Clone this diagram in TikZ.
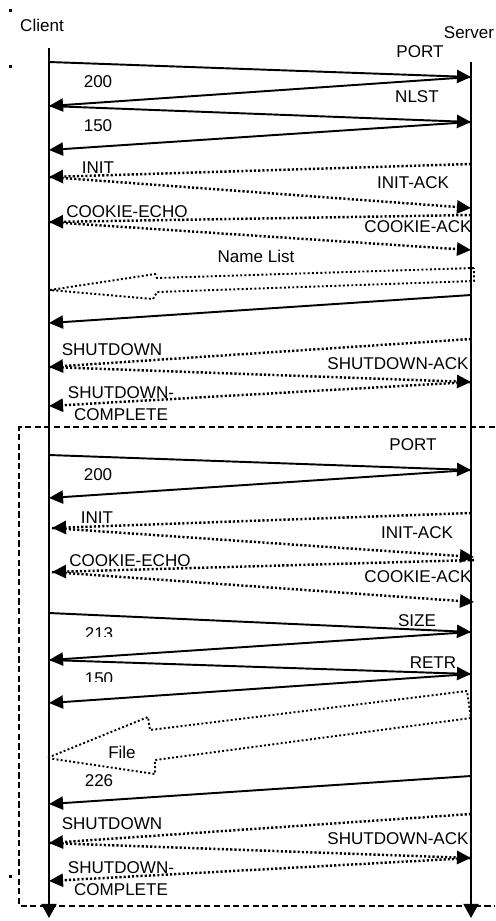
\documentclass[tikz,border=0pt]{standalone}
\usepackage{fontspec}
\setmainfont{Liberation Sans}
\usetikzlibrary{arrows.meta}

\tikzset{
  msg/.style={-{Triangle[length=8pt,width=7.5pt]}, line width=1.1pt},
  sig/.style={msg, line width=1.4pt, dash pattern=on 1.2pt off 1.2pt},
  life/.style={-{Triangle[length=8pt,width=8.5pt]}, line width=1.2pt},
  bigarrow/.style={line width=1.1pt, dash pattern=on 1.1pt off 1.3pt},
  frame/.style={line width=0.7pt, dash pattern=on 3.5pt off 2pt},
  lbl/.style={inner sep=0pt}
}

\begin{document}
\begin{tikzpicture}[x=0.02cm, y=-0.02cm, font=\fontsize{9.7}{11}\selectfont, every node/.style={lbl}]
    \useasboundingbox (0,0) rectangle (495,921);

    % stray marks
    \fill (9,9) rectangle (12,12);
    \fill (9,65) rectangle (12,68);
    \fill (9,875) rectangle (12,878);

    % lifelines
    \node (client) at (42,25) {Client};
    \node (server) at (469,33) {Server};
    \coordinate (ctop) at (49,48);
    \coordinate (cbot) at (49,918);
    \coordinate (stop) at (471,62);
    \coordinate (sbot) at (471,918);
    \draw[life] (ctop) -- (cbot);
    \draw[life] (stop) -- (sbot);

    % points on the lifelines
    \foreach \y in {62,106,150,177,222,323,367,406,455,498,613,660,703,804,843,881}
        \coordinate (c\y) at (49,\y);
    \foreach \y in {528,572}
        \coordinate (c\y) at (52,\y);
    \foreach \y in {77,122,164,208,215,250,295,339,382,470,513,632,674,776,814,858}
        \coordinate (s\y) at (471,\y);
    \foreach \y in {557,560,602}
        \coordinate (s\y) at (474,\y);

    % first transfer
    \draw[msg] (c62) -- (s77);
    \draw[msg] (s77) -- (c106);
    \draw[msg] (c106) -- (s122);
    \draw[msg] (s122) -- (c150);
    \draw[sig] (s164) -- (c177);
    \draw[sig] (c177) -- (s208);
    \draw[sig] (s215) -- (c222);
    \draw[sig] (c222) -- (s250);
    \draw[bigarrow] (474,268) -- (157,278) -- (155,274) -- (50,290) -- (153,299) -- (157,292) -- (474,281) -- cycle;
    \draw[msg] (s295) -- (c323);
    \draw[sig] (s339) -- (c367);
    \draw[sig] (c367) -- (s382);
    \draw[sig] (s382) -- (c406);

    \node (port1) at (420,52) {PORT};
    \node (ok1) at (98,82) {200};
    \node (nlst) at (417,97) {NLST};
    \node (open1) at (98,126) {150};
    \node (init1) at (98,168) {INIT};
    \node (initack1) at (413,183) {INIT-ACK};
    \node (echo1) at (127,212) {COOKIE-ECHO};
    \node (cack1) at (418,227) {COOKIE-ACK};
    \node (namelist) at (256,256) {Name List};
    \node (shut1) at (112,350) {SHUTDOWN};
    \node (shutack1) at (398,364) {SHUTDOWN-ACK};
    \node[align=center, font=\fontsize{9.7}{12.5}\selectfont] (comp1) at (121,404) {SHUTDOWN-\\COMPLETE};

    % second transfer
    \draw[frame] (495,427) -- (19,427) -- (19,906) -- (495,906);
    \draw[msg] (c455) -- (s470);
    \draw[msg] (s470) -- (c498);
    \draw[sig] (s513) -- (c528);
    \draw[sig] (c528) -- (s557);
    \draw[sig] (s560) -- (c572);
    \draw[sig] (c572) -- (s602);
    \draw[msg] (c613) -- (s632);
    \draw[msg] (s632) -- (c660);
    \draw[msg] (c660) -- (s674);
    \draw[msg] (s674) -- (c703);
    \draw[bigarrow] (467,691) -- (150,730) -- (148,717) -- (47,758) -- (155,774) -- (155,760) -- (471,718) -- cycle;
    \draw[msg] (s776) -- (c804);
    \draw[sig] (s814) -- (c843);
    \draw[sig] (c843) -- (s858);
    \draw[sig] (s858) -- (c881);

    \node (port2) at (413,445) {PORT};
    \node (ok2) at (98,475) {200};
    \node (init2) at (97,518) {INIT};
    \node (initack2) at (417,533) {INIT-ACK};
    \node (echo2) at (130,561) {COOKIE-ECHO};
    \node (cack2) at (418,577) {COOKIE-ACK};
    \node (size) at (417,621) {SIZE};
    \begin{scope}
        \clip (80,620) rectangle (120,636);
        \node (size213) at (99,634) {213};
    \end{scope}
    \node (retr) at (433,663) {RETR};
    \begin{scope}
        \clip (80,665) rectangle (120,681);
        \node (open2) at (99,679) {150};
    \end{scope}
    \node (file) at (122,752) {File};
    \node (done) at (99,781) {226};
    \node (shut2) at (112,824) {SHUTDOWN};
    \node (shutack2) at (398,839) {SHUTDOWN-ACK};
    \node[align=center, font=\fontsize{9.7}{12.5}\selectfont] (comp2) at (121,879) {SHUTDOWN-\\COMPLETE};
\end{tikzpicture}
\end{document}
